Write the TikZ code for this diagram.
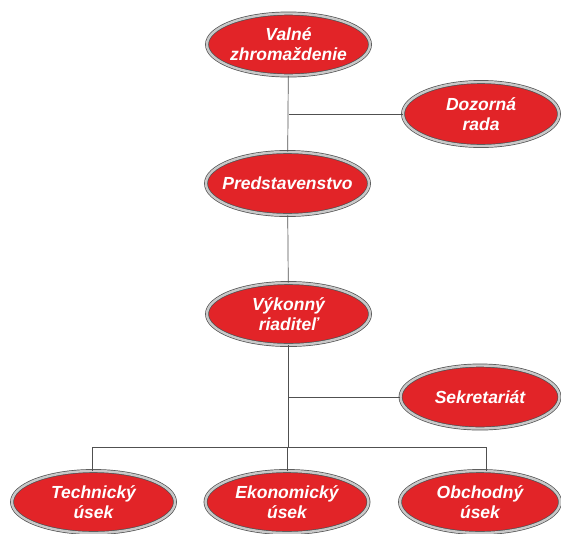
\documentclass[tikz,border=0pt]{standalone}
\usepackage{fontspec}
\setmainfont{Liberation Sans}
\usepackage{xcolor}
\usetikzlibrary{shapes.geometric}

\definecolor{unitred}{RGB}{226,36,40}
\definecolor{ringgray}{RGB}{200,200,200}
\definecolor{edgegray}{RGB}{80,80,80}

\tikzset{
  unit/.style={ellipse, fill=unitred, draw=edgegray, double=ringgray,
    double distance=2.4pt, line width=0.7pt, inner xsep=-15pt, inner ysep=-5pt,
    minimum width=163pt, minimum height=62pt, align=center,
    text=white, font=\fontsize{17.5}{20}\selectfont\bfseries\itshape},
  wire/.style={draw=edgegray, line width=0.7pt}
}

\begin{document}
\begin{tikzpicture}[x=1pt, y=-1pt]

\useasboundingbox (0,0) rectangle (561,533);

\node[unit] (valne) at (288.5,44.5) {Valné\\zhromaždenie};
\node[unit, minimum width=156pt, minimum height=64pt] (dozor) at (481,114) {Dozorná\\rada};
\node[unit, minimum height=63pt] (pred) at (287.5,183.5) {Predstavenstvo};
\node[unit] (vyk) at (288.5,314) {Výkonný\\riaditeľ};
\node[unit, minimum width=159pt, minimum height=63pt] (sekr) at (480,397) {Sekretariát};

\node[unit] (tech) at (93.5,502) {Technický\\úsek};
\node[unit] (ekon) at (287,502) {Ekonomický\\úsek};
\node[unit, minimum width=160pt] (obch) at (480,502) {Obchodný\\úsek};

\coordinate (busL) at (92,447);
\coordinate (busR) at (486,447);

\draw[wire] (valne) -- (pred) (vyk) -- (pred);
\draw[wire] (dozor.west) -- (dozor.west -| valne.south);
\draw[wire] (vyk.south) -- (vyk.south |- busL);
\draw[wire] (sekr.west) -- (sekr.west -| vyk.south);

\draw[wire] (busL) -- (busR);
\draw[wire] (busL) -- (busL |- tech.north);
\draw[wire] (ekon.north) -- (ekon.north |- busL);
\draw[wire] (busR) -- (busR |- obch.north);

\end{tikzpicture}
\end{document}
